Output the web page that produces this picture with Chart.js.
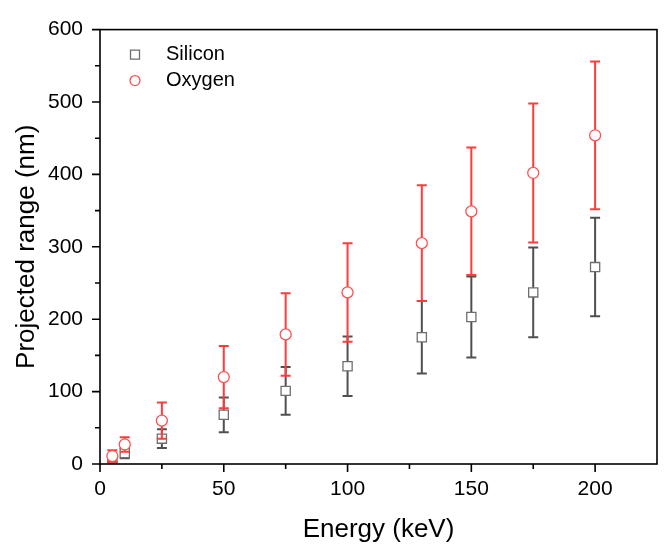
<!DOCTYPE html>
<html lang="en">
<head>
<meta charset="UTF-8">
<title>Projected range vs energy</title>
<style>
  body { margin: 0; background: #fff; }
  #chartBox { width: 665px; height: 546px; }
</style>
</head>
<body>
<div id="chartBox"><canvas id="rangeChart" width="665" height="546"></canvas></div>

<script src="https://cdn.jsdelivr.net/npm/chart.js@4"></script>
<script>
const energies = [5, 10, 25, 50, 75, 100, 130, 150, 175, 200];
const siliconRange = [8, 15, 35, 68, 101, 135, 175, 203, 237, 272];
const siliconErr = [5, 7, 13, 24, 33, 41, 50, 56, 62, 68];
const oxygenRange = [11, 27, 60, 120, 179, 237, 305, 349, 402, 454];
const oxygenErr = [8, 10, 25, 43, 57, 68, 80, 88, 96, 102];

const xTicks = [0, 50, 100, 150, 200];
const xMinorTicks = [25, 75, 125, 175];
const yTicks = [0, 100, 200, 300, 400, 500, 600];
const yMinorTicks = [50, 150, 250, 350, 450, 550];

const FONT = "Arial, 'Liberation Sans', sans-serif";

function toPoints(values) {
    return energies.map((e, i) => ({ x: e, y: values[i] }));
}

// error bars are drawn right before their own dataset, like Origin does it
const errorBarPlugin = {
    id: 'errorBars',
    beforeDatasetDraw(chart, args) {
        const ds = chart.data.datasets[args.index];
        if (!ds.errors) return;
        const ctx = chart.ctx;
        const yScale = chart.scales.y;
        ctx.save();
        ctx.strokeStyle = ds.errorColor;
        ctx.lineWidth = 2;
        args.meta.data.forEach((pt, i) => {
            const v = ds.data[i].y;
            const e = ds.errors[i];
            const top = yScale.getPixelForValue(v + e);
            const bot = yScale.getPixelForValue(v - e);
            const x = pt.x;
            ctx.beginPath();
            ctx.moveTo(x, top); ctx.lineTo(x, bot);
            ctx.moveTo(x - 5, top); ctx.lineTo(x + 5, top);
            ctx.moveTo(x - 5, bot); ctx.lineTo(x + 5, bot);
            ctx.stroke();
        });
        ctx.restore();
    }
};

// box frame plus outward major / minor ticks
const framePlugin = {
    id: 'frame',
    afterDraw(chart) {
        const { ctx, chartArea: a, scales: { x, y } } = chart;
        ctx.save();
        ctx.strokeStyle = '#000';
        ctx.lineWidth = 1.6;
        ctx.strokeRect(a.left, a.top, a.right - a.left, a.bottom - a.top);
        ctx.beginPath();
        xTicks.forEach(v => {
            const px = x.getPixelForValue(v);
            ctx.moveTo(px, a.bottom); ctx.lineTo(px, a.bottom + 8);
        });
        xMinorTicks.forEach(v => {
            const px = x.getPixelForValue(v);
            ctx.moveTo(px, a.bottom); ctx.lineTo(px, a.bottom + 5);
        });
        yTicks.forEach(v => {
            const py = y.getPixelForValue(v);
            ctx.moveTo(a.left, py); ctx.lineTo(a.left - 8, py);
        });
        yMinorTicks.forEach(v => {
            const py = y.getPixelForValue(v);
            ctx.moveTo(a.left, py); ctx.lineTo(a.left - 5, py);
        });
        ctx.stroke();
        ctx.restore();
    }
};

// legend inside the plot, top left
const insideLegendPlugin = {
    id: 'insideLegend',
    afterDraw(chart) {
        const ctx = chart.ctx;
        const a = chart.chartArea;
        const mx = a.left + 35;
        const tx = a.left + 66;
        ctx.save();
        ctx.font = '20px ' + FONT;
        ctx.textBaseline = 'middle';
        ctx.fillStyle = '#000';
        chart.data.datasets.forEach((ds, i) => {
            const my = a.top + 25 + i * 26;
            ctx.strokeStyle = ds.borderColor;
            ctx.lineWidth = 1.3;
            ctx.fillStyle = '#fff';
            ctx.beginPath();
            if (ds.pointStyle === 'rect') {
                ctx.rect(mx - 4.5, my - 4.5, 9, 9);
            } else {
                ctx.arc(mx, my, 5, 0, Math.PI * 2);
            }
            ctx.fill();
            ctx.stroke();
            ctx.fillStyle = '#000';
            ctx.fillText(ds.label, tx, my);
        });
        ctx.restore();
    }
};

const ctx = document.getElementById('rangeChart').getContext('2d');
new Chart(ctx, {
    type: 'scatter',
    data: {
        datasets: [
            {
                label: 'Silicon',
                data: toPoints(siliconRange),
                errors: siliconErr,
                errorColor: '#505050',
                pointStyle: 'rect',
                pointRadius: 6.5,
                borderColor: '#6e6e6e',
                backgroundColor: '#fff',
                borderWidth: 1.3,
                order: 2
            },
            {
                label: 'Oxygen',
                data: toPoints(oxygenRange),
                errors: oxygenErr,
                errorColor: '#ff3c3c',
                pointStyle: 'circle',
                pointRadius: 5.5,
                borderColor: '#ff5252',
                backgroundColor: '#fff',
                borderWidth: 1.3,
                order: 1
            }
        ]
    },
    options: {
        responsive: false,
        animation: false,
        devicePixelRatio: 1,
        layout: { padding: { top: 17, right: 8, left: 0, bottom: 0 } },
        plugins: {
            legend: { display: false },
            tooltip: { enabled: false }
        },
        scales: {
            x: {
                type: 'linear',
                min: 0,
                max: 225,
                afterBuildTicks: s => { s.ticks = xTicks.map(v => ({ value: v })); },
                afterFit: s => { s.height = 82; },
                grid: { display: false, drawTicks: false },
                border: { display: false },
                ticks: { padding: 13, color: '#000', font: { family: FONT, size: 21 } },
                title: {
                    display: true,
                    text: 'Energy (keV)',
                    color: '#000',
                    font: { family: FONT, size: 26 },
                    padding: { top: 0, bottom: 1 }
                }
            },
            y: {
                type: 'linear',
                min: 0,
                max: 600,
                afterBuildTicks: s => { s.ticks = yTicks.map(v => ({ value: v })); },
                afterFit: s => { s.width = 100; },
                grid: { display: false, drawTicks: false },
                border: { display: false },
                ticks: { padding: 17, color: '#000', font: { family: FONT, size: 21 } },
                title: {
                    display: true,
                    text: 'Projected range (nm)',
                    color: '#000',
                    font: { family: FONT, size: 26 },
                    padding: { top: 11, bottom: 0 }
                }
            }
        }
    },
    plugins: [errorBarPlugin, framePlugin, insideLegendPlugin]
});
</script>
</body>
</html>
